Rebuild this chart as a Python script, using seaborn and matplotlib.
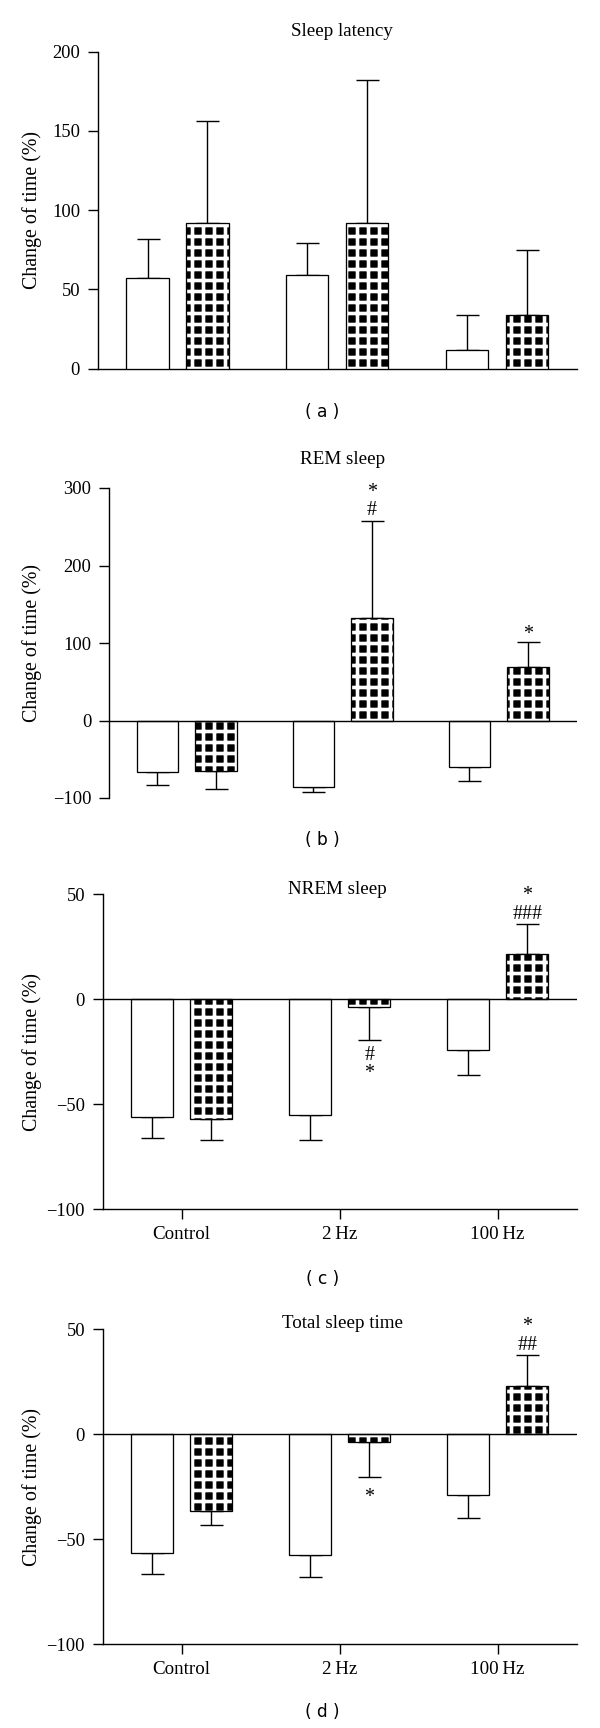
import matplotlib
matplotlib.use("Agg")
import matplotlib.pyplot as plt
import seaborn as sns
import pandas as pd
from matplotlib.colors import to_rgba

# ---------------- data ----------------
groups = ["Control", "2\u2009Hz", "100\u2009Hz"]
conditions = ["Plain", "Checked"]

latency_plain = [57.4, 59.3, 12.0]
latency_plain_err = [24.4, 20.2, 22.0]
latency_checked = [91.7, 91.7, 34.0]
latency_checked_err = [64.8, 90.3, 40.7]

rem_plain = [-66.7, -85.6, -60.6]
rem_plain_err = [16.3, 6.4, 17.7]
rem_checked = [-65.0, 132.9, 68.4]
rem_checked_err = [23.6, 124.3, 33.1]

nrem_plain = [-55.9, -54.9, -24.3]
nrem_plain_err = [10.1, 11.9, 11.7]
nrem_checked = [-57.0, -3.8, 21.4]
nrem_checked_err = [10.0, 15.4, 14.3]

total_plain = [-56.7, -57.3, -28.9]
total_plain_err = [10.0, 10.6, 10.9]
total_checked = [-36.3, -3.5, 23.2]
total_checked_err = [6.9, 16.8, 14.4]

# significance marks on the checked bars, listed from the error bar outward
latency_marks = [[], [], []]
rem_marks = [[], ["#", "*"], ["*"]]
nrem_marks = [[], ["#", "*"], ["###", "*"]]
total_marks = [[], ["*"], ["##", "*"]]

titles = ["Sleep latency", "REM sleep", "NREM sleep", "Total sleep time"]
panel_labels = ["( a )", "( b )", "( c )", "( d )"]
ylabel_text = "Change of time (%)"
yticks_list = [[0, 50, 100, 150, 200], [-100, 0, 100, 200, 300],
               [-100, -50, 0, 50], [-100, -50, 0, 50]]
ylims = [(0, 200), (-100, 300), (-100, 50), (-100, 50)]

panels = [
    (latency_plain, latency_plain_err, latency_checked, latency_checked_err, latency_marks),
    (rem_plain, rem_plain_err, rem_checked, rem_checked_err, rem_marks),
    (nrem_plain, nrem_plain_err, nrem_checked, nrem_checked_err, nrem_marks),
    (total_plain, total_plain_err, total_checked, total_checked_err, total_marks),
]

# ---------------- layout / style ----------------
W, H, DPI = 600, 1728, 132


def pt(px):
    return px * 72.0 / DPI


SERIF = "Liberation Serif"
SANS = "DejaVu Sans"

sns.set_style("ticks")
plt.rcParams["font.family"] = [SERIF, "DejaVu Sans"]
plt.rcParams["hatch.linewidth"] = pt(3.6)
plt.rcParams["axes.unicode_minus"] = True

# axes boxes in pixels: left, right, top, bottom
boxes = [
    (97.6, 576.7, 51.7, 368.7),
    (108.7, 576.7, 488.0, 798.0),
    (102.6, 576.7, 894.3, 1209.3),
    (102.6, 576.7, 1329.3, 1644.3),
]
title_pos = [(341.7, 32.0), (342.5, 460.0), (337.5, 889.0), (342.5, 1324.0)]
label_pos = [(322.6, 412.0), (322.6, 840.0), (322.6, 1279.0), (322.6, 1711.7)]

LW = 1.4
MARK_EM = 20.0               # px font size of the significance marks
ASC = 0.87                   # line ascent used by the text layout, in em
LS = 0.95                    # line spacing inside a stack of marks
CENTRE = {"#": 0.34, "*": 0.50}  # glyph centre above baseline, in em

fig = plt.figure(figsize=(W / DPI, H / DPI), dpi=DPI)
fig.patch.set_facecolor("white")

for i, (plain, plain_err, checked, checked_err, marks) in enumerate(panels):
    l, r, t, b = boxes[i]
    ax = fig.add_axes([l / W, 1 - b / H, (r - l) / W, (b - t) / H])
    ax.set_facecolor("white")

    df = pd.DataFrame({
        "group": groups * 2,
        "condition": [conditions[0]] * len(groups) + [conditions[1]] * len(groups),
        "value": list(plain) + list(checked),
    })
    sns.barplot(data=df, x="group", y="value", hue="condition",
                order=groups, hue_order=conditions,
                palette={"Plain": "white", "Checked": "black"},
                saturation=1, edgecolor="black", linewidth=pt(1.3),
                width=0.75, gap=0.29, errorbar=None, legend=False,
                ax=ax, zorder=3)

    # checked pattern: black squares separated by white lines
    for bar in ax.containers[1]:
        bar.set_hatch("++")
        if hasattr(bar, "set_hatchcolor"):
            bar.set_hatchcolor("white")
        else:
            bar._hatch_color = to_rgba("white")

    # one-sided error bars and significance marks
    for cont, errs, mk in ((ax.containers[0], plain_err, None),
                           (ax.containers[1], checked_err, marks)):
        bars = sorted(cont.patches, key=lambda p: p.get_x())
        for j, (bar, e) in enumerate(zip(bars, errs)):
            x = bar.get_x() + bar.get_width() / 2
            v = bar.get_y() + bar.get_height()
            sign = 1 if v >= 0 else -1
            yerr = [[0], [e]] if sign > 0 else [[e], [0]]
            ax.errorbar([x], [v], yerr=yerr, fmt="none", ecolor="black",
                        elinewidth=pt(LW), capsize=pt(11.5), capthick=pt(LW),
                        zorder=2)
            if mk is None or not mk[j]:
                continue
            tip = v + sign * e
            stack = mk[j]
            n = len(stack)
            step = ASC * MARK_EM * LS
            if sign > 0:
                text = "\n".join(reversed(stack))
                base = 12.5 - CENTRE[stack[0][0]] * MARK_EM
            else:
                text = "\n".join(stack)
                base = -15.0 - CENTRE[stack[0][0]] * MARK_EM - (n - 1) * step
            ax.annotate(text, xy=(x, tip), xytext=(0, pt(base)),
                        textcoords="offset points", ha="center",
                        va="baseline", fontsize=pt(MARK_EM), family=SERIF,
                        linespacing=LS, color="black", annotation_clip=False)

    ax.set_xlim(-0.5, 2.5)
    ax.set_ylim(*ylims[i])
    ax.set_yticks(yticks_list[i])
    for s in ("top", "right"):
        ax.spines[s].set_visible(False)
    for s in ("left", "bottom"):
        ax.spines[s].set_linewidth(pt(LW))
        ax.spines[s].set_color("black")
    ax.tick_params(axis="y", direction="out", length=pt(10), width=pt(LW),
                   pad=pt(7.5), labelsize=pt(18.5), colors="black")
    ax.tick_params(axis="x", direction="out", length=pt(10), width=pt(LW),
                   pad=pt(7), labelsize=pt(19), colors="black")
    ax.set_xlabel("")
    ax.set_ylabel(ylabel_text, fontsize=pt(20), family=SERIF, color="black")
    ax.yaxis.set_label_coords((41.5 - l) / (r - l), 0.5)

    if i == 0:
        ax.tick_params(axis="x", length=0, labelbottom=False)
    elif i == 1:
        ax.spines["bottom"].set_visible(False)
        ax.tick_params(axis="x", length=0, labelbottom=False)
        ax.axhline(0, color="black", lw=pt(LW), zorder=4)
    else:
        ax.axhline(0, color="black", lw=pt(LW), zorder=4)

    tx, ty = title_pos[i]
    fig.text(tx / W, 1 - ty / H, titles[i], ha="center", va="center",
             fontsize=pt(19), family=SERIF, color="black")
    lx, ly = label_pos[i]
    fig.text(lx / W, 1 - ly / H, panel_labels[i], ha="center", va="center",
             fontsize=pt(17), family=SANS, color="black")

fig.savefig("out.png", dpi=DPI, facecolor="white")
